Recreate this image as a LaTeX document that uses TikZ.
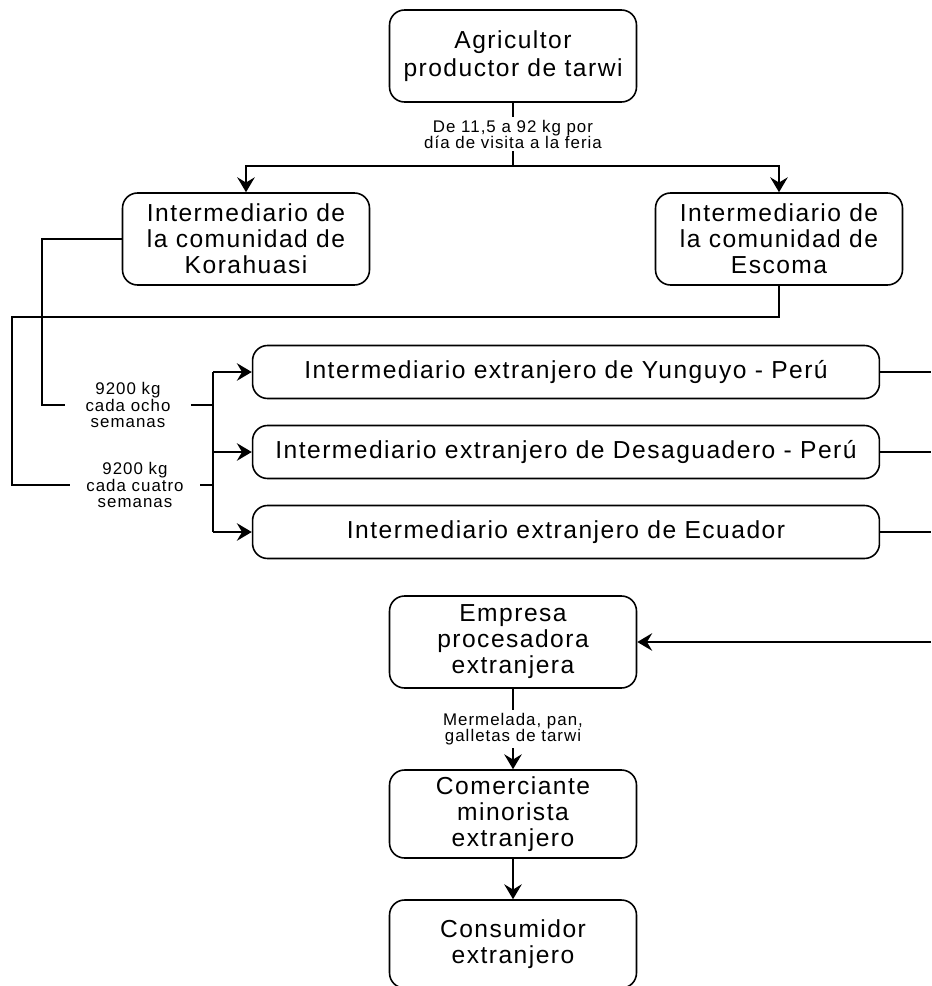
\documentclass[tikz,border=0pt]{standalone}
\usepackage{fontspec}
\setmainfont{Liberation Sans}
\newfontfamily\spacedfont[LetterSpace=6]{Liberation Sans}
\usetikzlibrary{arrows.meta}
\begin{document}
\begin{tikzpicture}[
        x=0.02cm, y=-0.02cm,
        box/.style={draw, rounded corners=0.3cm, line width=0.9pt, align=center,
            font=\spacedfont\fontsize{14}{14.8}\selectfont, inner sep=0pt},
        tall/.style={box, minimum width=4.94cm, minimum height=1.84cm},
        wide/.style={box, minimum width=12.54cm, minimum height=1.06cm},
        lbl/.style={fill=white, align=center, inner sep=1.5pt,
            font=\spacedfont\fontsize{9.6}{9.4}\selectfont},
        link/.style={line width=1.1pt},
        forward/.style={link, -{Stealth[length=8.5pt, width=10pt, inset=3pt]}}
    ]
        \useasboundingbox (0,0) rectangle (931,986);
        \node[tall, font=\spacedfont\fontsize{14}{16}\selectfont] (agri) at (513, 56) {Agricultor\\productor de tarwi};
        \node[tall] (kora) at (246, 239) {Intermediario de\\la comunidad de\\Korahuasi};
        \node[tall] (esco) at (779, 239) {Intermediario de\\la comunidad de\\Escoma};
        \node[wide] (yung) at (566, 372) {Intermediario extranjero de Yunguyo - Perú};
        \node[wide] (desa) at (566, 452) {Intermediario extranjero de Desaguadero - Perú};
        \node[wide] (ecua) at (566, 532) {Intermediario extranjero de Ecuador};
        \node[tall] (empr) at (513, 642) {Empresa\\procesadora\\extranjera};
        \node[tall, minimum height=1.76cm] (come) at (513, 814) {Comerciante\\minorista\\extranjero};
        \node[tall, minimum height=1.76cm] (cons) at (513, 944) {Consumidor\\extranjero};

        \node[lbl, minimum width=2.5cm] (ocho) at (128, 405) {9200 kg\\cada ocho\\semanas};
        \node[lbl, minimum width=2.6cm] (cuatro) at (135, 485) {9200 kg\\cada cuatro\\semanas};

        \coordinate (split) at (513, 166);
        \coordinate (kL) at (42, 239);
        \coordinate (eD) at (779, 317);
        \coordinate (eL) at (12, 317);
        \coordinate (jo) at (213, 405);
        \coordinate (jc) at (213, 485);
        \coordinate (bT) at (213, 372);
        \coordinate (bB) at (213, 532);
        \coordinate (edge) at (931, 0);

        \draw[link] (agri.south) -- node[lbl] {De 11,5 a 92 kg por\\día de visita a la feria} (split);
        \draw[forward] (split) -| (kora.north);
        \draw[forward] (split) -| (esco.north);

        \draw[link] (kora.west) -- (kL) |- (ocho.west);
        \draw[link] (esco.south) -- (eD) -- (eL) |- (cuatro.west);
        \draw[link] (ocho.east) -- (jo);
        \draw[link] (cuatro.east) -- (jc);
        \draw[link] (bT) -- (bB);
        \draw[forward] (bT) -- (yung.west);
        \draw[forward] (desa.west -| bT) -- (desa.west);
        \draw[forward] (bB) -- (ecua.west);

        \draw[link] (yung.east) -- (yung.east -| edge);
        \draw[link] (desa.east) -- (desa.east -| edge);
        \draw[link] (ecua.east) -- (ecua.east -| edge);
        \draw[forward] (empr.east -| edge) -- (empr.east);

        \draw[forward] (empr.south) -- node[lbl] {Mermelada, pan,\\galletas de tarwi} (come.north);
        \draw[forward] (come.south) -- (cons.north);
    \end{tikzpicture}
\end{document}
